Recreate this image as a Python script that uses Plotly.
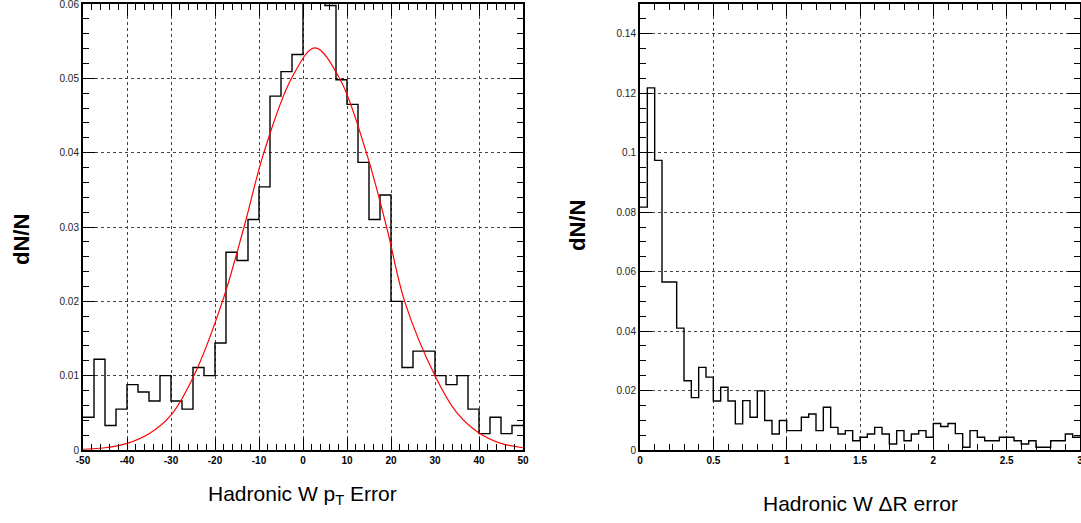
import plotly.graph_objects as go

# ---------------- data ----------------
# Left: hadronic W pT error histogram, 40 bins of width 2.5 from -50 to 50
pt_edges = [-50 + 2.5 * i for i in range(41)]
pt_values = [0.0044, 0.0122, 0.0033, 0.0055, 0.0088, 0.0078, 0.0066, 0.0100,
             0.0066, 0.0055, 0.0111, 0.0100, 0.0144, 0.0266, 0.0255, 0.0310,
             0.0354, 0.0476, 0.0509, 0.0532, 0.0625, 0.0640, 0.0598, 0.0498,
             0.0465, 0.0387, 0.0310, 0.0343, 0.0200, 0.0111, 0.0133, 0.0133,
             0.0100, 0.0088, 0.0100, 0.0055, 0.0022, 0.0044, 0.0022, 0.0033]
# Gaussian fit curve
fit_x = [-50, -45, -40, -35, -30, -24.8, -18.3, -13.4, -8.9, -2.6, 2.7,
         8.3, 14.4, 19.0, 23.1, 30, 35, 40, 45, 50]
fit_y = [0.0001, 0.0003, 0.0009, 0.0022, 0.0047, 0.0100, 0.0200, 0.0300,
         0.0400, 0.0500, 0.0541, 0.0500, 0.0400, 0.0300, 0.0200, 0.0100,
         0.0050, 0.0023, 0.0009, 0.0003]
pt_tickvals = [-50, -40, -30, -20, -10, 0, 10, 20, 30, 40, 50]
pt_ticktext = ["-50", "-40", "-30", "-20", "-10", "0", "10", "20", "30", "40", "50"]
pt_ytickvals = [0, 0.01, 0.02, 0.03, 0.04, 0.05, 0.06]
pt_yticktext = ["0", "0.01", "0.02", "0.03", "0.04", "0.05", "0.06"]

# Right: hadronic W dR error histogram, 60 bins of width 0.05 from 0 to 3
dr_edges = [round(0.05 * i, 2) for i in range(61)]
dr_values = [0.0817, 0.1218, 0.0974, 0.0565, 0.0565, 0.0410, 0.0233, 0.0176,
             0.0278, 0.0245, 0.0165, 0.0211, 0.0165, 0.0088, 0.0166, 0.0110,
             0.0199, 0.0099, 0.0054, 0.0099, 0.0065, 0.0065, 0.0110, 0.0121,
             0.0065, 0.0144, 0.0076, 0.0054, 0.0065, 0.0031, 0.0043, 0.0054,
             0.0076, 0.0054, 0.0020, 0.0065, 0.0031, 0.0054, 0.0065, 0.0043,
             0.0089, 0.0079, 0.0089, 0.0055, 0.0009, 0.0065, 0.0043, 0.0031,
             0.0031, 0.0043, 0.0043, 0.0031, 0.0020, 0.0031, 0.0009, 0.0009,
             0.0031, 0.0031, 0.0054, 0.0043]
dr_xtickvals = [0, 0.5, 1, 1.5, 2, 2.5, 3]
dr_xticktext = ["0", "0.5", "1", "1.5", "2", "2.5", "3"]
dr_ytickvals = [0, 0.02, 0.04, 0.06, 0.08, 0.1, 0.12, 0.14]
dr_yticktext = ["0", "0.02", "0.04", "0.06", "0.08", "0.1", "0.12", "0.14"]

# ---------------- figure ----------------
W, H = 1081, 523
FONT = "Liberation Sans Narrow, Arial Narrow, Liberation Sans, Arial, sans-serif"

fig = go.Figure()

fig.add_trace(go.Scatter(x=pt_edges, y=pt_values + [pt_values[-1]],
                         mode="lines", line=dict(shape="hv", color="black", width=1.4),
                         xaxis="x", yaxis="y", showlegend=False))
fig.add_trace(go.Scatter(x=fit_x, y=fit_y, mode="lines",
                         line=dict(shape="spline", smoothing=1.0, color="red", width=1.2),
                         xaxis="x", yaxis="y", showlegend=False))
fig.add_trace(go.Scatter(x=dr_edges, y=dr_values + [dr_values[-1]],
                         mode="lines", line=dict(shape="hv", color="black", width=1.4),
                         xaxis="x2", yaxis="y2", showlegend=False))


def px_x(a, b):
    return [a / W, b / W]


ydom = [1 - 450 / H, 1 - 4 / H]

common = dict(showline=True, linecolor="black", linewidth=2, mirror="allticks",
              ticks="inside", ticklen=12, tickwidth=1, tickcolor="black",
              showgrid=True, gridcolor="#444", griddash="dot", gridwidth=1,
              zeroline=False, fixedrange=True, ticklabeloverflow="allow",
              automargin=False)

fig.update_layout(
    width=W, height=H, autosize=False,
    margin=dict(l=0, r=0, t=0, b=0, pad=0),
    paper_bgcolor="white", plot_bgcolor="white",
    font=dict(family=FONT, color="black"),
    xaxis=dict(domain=px_x(83, 523), range=[-50, 50], anchor="y",
               tickvals=pt_tickvals, ticktext=pt_ticktext,
               tickfont=dict(size=10, weight="bold"),
               minor=dict(dtick=2, ticks="inside", ticklen=6, tickcolor="black", showgrid=False),
               **common),
    yaxis=dict(domain=ydom, range=[0, 0.06], anchor="x",
               tickvals=pt_ytickvals, ticktext=pt_yticktext,
               tickfont=dict(size=10, color="#222"),
               minor=dict(dtick=0.002, ticks="inside", ticklen=6, tickcolor="black", showgrid=False),
               **common),
    xaxis2=dict(domain=px_x(640, 1080), range=[0, 3], anchor="y2",
                tickvals=dr_xtickvals, ticktext=dr_xticktext,
                tickfont=dict(size=10, weight="bold"),
                minor=dict(dtick=0.1, ticks="inside", ticklen=6, tickcolor="black", showgrid=False),
                **common),
    yaxis2=dict(domain=ydom, range=[0, 0.15], anchor="x2",
                tickvals=dr_ytickvals, ticktext=dr_yticktext,
                tickfont=dict(size=10, color="#222"),
                minor=dict(dtick=0.005, ticks="inside", ticklen=6, tickcolor="black", showgrid=False),
                **common),
    annotations=[
        dict(text="dN/N", x=22 / W, y=1 - 240 / H, xref="paper", yref="paper",
             textangle=-90, showarrow=False, font=dict(size=22, family=FONT, weight="bold"),
             xanchor="center", yanchor="middle"),
        dict(text="dN/N", x=578 / W, y=1 - 226 / H, xref="paper", yref="paper",
             textangle=-90, showarrow=False, font=dict(size=22, family=FONT, weight="bold"),
             xanchor="center", yanchor="middle"),
        dict(text="Hadronic W p<sub>T</sub> Error", x=302 / W, y=1 - 495 / H,
             xref="paper", yref="paper", showarrow=False,
             font=dict(size=21, family=FONT), xanchor="center", yanchor="middle"),
        dict(text="Hadronic W \u0394R error", x=860 / W, y=1 - 503 / H,
             xref="paper", yref="paper", showarrow=False,
             font=dict(size=21, family=FONT), xanchor="center", yanchor="middle"),
    ],
)

fig.write_html("out.html")
